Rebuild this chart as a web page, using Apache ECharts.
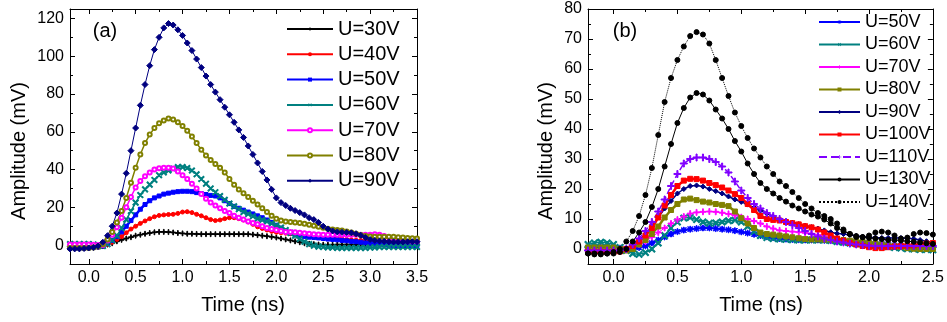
<!DOCTYPE html>
<html><head><meta charset="utf-8">
<script src="https://cdn.jsdelivr.net/npm/echarts@6/dist/echarts.min.js"></script>
<style>html,body{margin:0;padding:0;background:#fff}#c{width:947px;height:322px}</style>
</head><body><div id="c"></div>
<script>
// ---------- Panel (a) data ----------
const timeA = [-0.2,-0.15,-0.1,-0.05,0,0.05,0.1,0.15,0.2,0.25,
0.3,0.35,0.4,0.45,0.5,0.55,0.6,0.65,0.7,0.75,
0.8,0.85,0.9,0.95,1,1.05,1.1,1.15,1.2,1.25,
1.3,1.35,1.4,1.45,1.5,1.55,1.6,1.65,1.7,1.75,
1.8,1.85,1.9,1.95,2,2.05,2.1,2.15,2.2,2.25,
2.3,2.35,2.4,2.45,2.5,2.55,2.6,2.65,2.7,2.75,
2.8,2.85,2.9,2.95,3,3.05,3.1,3.15,3.2,3.25,
3.3,3.35,3.4,3.45,3.5];
const a30 = [-1.5,-1.5,-1.5,-1.5,-1.5,-1.3,-1,-0.5,0.3,1,
2,2.8,3.5,4.2,5,5.5,6,6.4,6.8,7,
7,6.9,6.7,6.4,6.2,6,6,5.9,5.8,5.8,
5.8,5.8,5.8,5.8,5.8,5.8,5.8,5.8,5.8,5.6,
5.3,5,4.7,4.4,4,3.5,3,2.5,2,1.5,
1,0.7,0.5,0.3,0.2,0.2,0.2,0.3,0.3,0.3,
0.3,0.4,0.4,0.4,0.4,0.4,0.5,0.5,0.5,0.5,
0.5,0.5,0.5,0.5,0.5];
const a40 = [-1.5,-1.5,-1.5,-1.5,-1.5,-1.3,-1,-0.5,0.5,1.5,
3,4.5,6.5,8.5,10,11.5,12.8,14,15,15.7,
16,16.2,16.3,16.8,17.5,17.7,17.2,16.3,15.5,14.5,
13.5,13,13.3,14,14.5,14.5,14,13.3,12.3,11,
9.7,8.8,8,7.3,6.8,6.5,6.3,6,5.8,5.5,
5.3,5,4.8,4.5,4.3,4,3.8,3.5,3.3,3,
2.8,2.6,2.5,2.4,2.3,2.2,2.1,2,2,1.9,
1.8,1.8,1.7,1.6,1.5];
const a50 = [-1.5,-1.5,-1.5,-1.5,-1.5,-1.3,-1,-0.5,1,2.5,
4.5,7,10,13,16,19,21.5,23.5,25,26,
27,27.5,28,28.3,28.5,28.5,28.3,27.8,27.3,26.8,
26.3,26,25,23.5,22,20.5,19.5,18.5,17.5,16.5,
15.5,14.5,13.3,12,10.5,9,7.5,6.5,5.5,5,
4.5,4.2,4,3.8,3.5,3.2,3,2.8,2.5,2.3,
2,1.8,1.5,1.2,1,0.8,0.5,0.3,0,-0.2,
-0.3,-0.3,-0.3,-0.3,-0.3];
const a60 = [0.5,0.5,0.5,0.5,0.5,0.3,0,-0.5,0.5,2.5,
5,9,13.5,18,22.5,26.5,29.5,32,34.5,37,
38.5,39.5,40.5,41.3,41.3,40.8,39.5,37.5,35,32.5,
30,28,26,24,22,20.5,19,17.5,16.5,15.3,
14,13.3,12.5,11.5,10.5,9.3,8,6.5,5,3.3,
1.8,0.5,-0.3,-0.8,-1,-1.2,-1.3,-1.5,-1.5,-1.5,
-1.5,-1.5,-1.5,-1.5,-1.3,-1.2,-1,-1,-1,-1,
-1,-1,-1,-1,-1];
const a70 = [0.3,0.3,0.3,0.3,0.3,0.2,0,0,2.5,5.5,
9.5,14.5,20,25.5,30.5,34,36.5,38.5,40,40.7,
41,41,40.5,39,37,35,32.5,30,27,24.5,
22.5,21,19.5,18,17,15.5,14.5,13.5,12.5,11.7,
11,10,9,8.5,8,7.5,7,7,6.8,6.5,
6.3,6,5.8,5.6,5.5,5.5,5.5,5.5,5.5,5.5,
5.5,5.5,5.5,5.5,5.5,5.7,5.5,4.8,4,3.3,
2.8,2.5,2.3,2.1,2];
const a80 = [-1.5,-1.5,-1.5,-1.5,-1.5,-1.3,-0.8,0.5,3,7,
12,18,25,33,41,48,54,58.5,62,64.5,
66,67,66.5,65,63,60.5,57.5,54,50.5,47.5,
45,43,41,38.5,35,32,29.5,27.5,25.5,23.5,
21.5,19.5,17.5,15.5,14,13,12.5,12.3,12,11.7,
11.3,10.8,10.3,9.7,9.2,8.7,8.3,8,7.7,7.2,
6.7,6,5.3,4.8,4.5,4.4,4.4,4.4,4.4,4.4,
4.2,4,3.8,3.6,3.5];
const a90 = [-2,-2,-2,-1.8,-1.5,-1.2,-0.5,1.5,5,10,
17,27,38,50,62,74,85,95,103.5,110,
115,117.3,116.5,114,111,107,103,98.5,94,89.5,
85,81,77,73,69,65,61,57,52.5,48,
43.5,39,34.5,29.5,25,22.5,21,19.5,18.3,17.2,
16,14.5,13.5,12,10,8.5,7.5,7,6.8,6.7,
6.5,6,5.2,4,3,2.5,2.2,2,1.8,1.7,
1.7,1.7,1.8,1.8,1.8];

// ---------- Panel (b) data ----------
const timeB = [-0.2,-0.15,-0.1,-0.05,0,0.05,0.1,0.15,0.2,0.25,
0.3,0.35,0.4,0.45,0.5,0.55,0.6,0.65,0.7,0.75,
0.8,0.85,0.9,0.95,1,1.05,1.1,1.15,1.2,1.25,
1.3,1.35,1.4,1.45,1.5,1.55,1.6,1.65,1.7,1.75,
1.8,1.85,1.9,1.95,2,2.05,2.1,2.15,2.2,2.25,
2.3,2.35,2.4,2.45,2.5];
const b50 = [0.5,0.5,0.5,0.5,0.5,0.3,0,0,0.5,1,
2,3,4,5,5.8,6.3,6.6,6.8,7,7,
6.8,6.6,6.4,6.1,5.7,5.3,4.9,4.5,4.1,3.8,
3.5,3.3,3.2,3.1,3,3,3,2.9,2.8,2.6,
2.5,2.3,2.2,2.1,2,1.8,1.6,1.4,1.2,1,
0.8,0.7,0.6,0.5,0.5];
const b60 = [1.5,2,2.3,2,1.5,0.5,-0.5,-1.5,-1.8,-1.2,
0,2,4.5,7,9,10.3,10.5,9.8,9,8.6,
8.7,9,9.4,9.6,9,7.5,5.8,4.5,3.8,3.5,
3.3,3.2,3.1,3,3,3,3,3,2.8,2.5,
2.2,2,1.8,1.6,1.4,1.2,1,0.8,0.5,0.3,
0.1,0,-0.2,-0.2,-0.3];
const b70 = [0,0,0,0,0,0,0,0.5,1.5,2.5,
4,5.5,7,8.5,9.8,10.8,11.8,12.2,12.4,12.5,
12.4,12.1,11.7,11.2,10.6,10,9.3,8.5,7.5,6.8,
6.2,6,5.8,5.6,5.4,5.1,4.7,4.2,3.6,3,
2.5,2,1.7,1.5,1.3,1.2,1.1,1,1,1,
1,1,1,1,1];
const b80 = [0.5,0.5,0.5,0.5,0.5,0,-0.5,0,1.5,3,
5,7.5,10.5,13,15,16.5,16.8,16.3,15.8,15.5,
15,14.7,14.3,12.5,10.3,8.5,7,5.5,5,4.8,
4.5,4.2,3.9,3.6,3.3,3.2,3.2,3.1,3.1,3,
3,2.8,2.6,2.3,2,1.8,1.5,1.2,1,0.7,
0.3,0.1,0,0,0];
const b90 = [-1.2,-1.2,-1.2,-1.2,-1.2,-1,-0.3,1,3,5,
7.5,10.5,13.5,16,18.5,20,21,21.2,20.8,20,
19.3,18.5,17.5,16.5,15.7,14.8,13.8,12.8,11.8,10.8,
9.8,9.3,8.8,8.3,7.8,7.3,6.8,6.2,5.6,5.2,
5,4.7,4.4,4.1,3.9,3.8,3.7,3.7,3.7,3.7,
3.6,3.4,3,2.6,2.2];
const b100 = [-1,-1,-1,-1,-1,-0.8,0,1,2.5,4.5,
7,10.5,14.5,18,21,22.8,23.4,23.3,22.8,22,
21.3,20.5,19.5,18.3,17,15,13,11,10,9.7,
9.5,9,8.6,8.2,7.6,7.2,6.5,5.5,4.5,3.5,
2.8,2,1.5,1,0.6,0.3,0.3,0.6,0.8,1,
1.1,1.2,1.5,1.8,2];
const b110 = [-0.5,-0.5,-0.5,-0.5,-0.5,-0.5,0,1.5,3.5,6,
9,12.5,16.5,21,25,28.5,30,30.5,30.5,30,
29,27.5,25.5,22.5,19.5,17,15,13.5,12,11,
10,9,8,7,6,5,4.2,3.5,3,2.5,
2.2,1.8,1.5,1.3,1.1,1,1,1,1,1,
1,1,1,1,1];
const b130 = [-1.5,-1.5,-1.5,-1.5,-1.5,-1,0,2.5,5.5,9,
14,20,27.5,35,42,47,50.5,52,51.5,49.5,
46.5,43.5,40,36,32.5,28.5,25,22,20,18.5,
17,15.8,14.5,13.5,12.5,11.5,10.8,9.8,8.5,7,
6,5,4.3,3.9,3.7,3.5,3.3,3,3,2.8,
2.6,2.4,2.2,1.9,1.7];
const b140 = [-1.5,-1.8,-1.8,-1.5,-1,0,2.5,6,11,18,
27,38,49,57,63,67.5,71,72.3,71.5,68.5,
63,57,51,45.5,41,37,33.5,30.5,27.5,25,
22.5,21,19,17,15,13.5,12,11,10,8.5,
6.5,5,4,4,4.5,5.5,5.8,5.5,4.5,3.5,
3.8,5,5.5,5.3,4.8];

// ---------- Names and ticks ----------
const namesA = ['U=30V','U=40V','U=50V','U=60V','U=70V','U=80V','U=90V'];
const namesB = ['U=50V','U=60V','U=70V','U=80V','U=90V','U=100V','U=110V','U=130V','U=140V'];
const xTicksA = [0,0.5,1,1.5,2,2.5,3,3.5];
const xMinorA = [0.25,0.75,1.25,1.75,2.25,2.75,3.25];
const yTicksA = [0,20,40,60,80,100,120];
const yMinorA = [-10,10,30,50,70,90,110];
const xTicksB = [0,0.5,1,1.5,2,2.5];
const xMinorB = [0.25,0.75,1.25,1.75,2.25];
const yTicksB = [0,10,20,30,40,50,60,70,80];
const yMinorB = [5,15,25,35,45,55,65,75];

const valsA = [a30,a40,a50,a60,a70,a80,a90];
const valsB = [b50,b60,b70,b80,b90,b100,b110,b130,b140];

// ---------- Styles ----------
const PLUS = 'path://M3.4,0h1.2v8h-1.2zM0,3.4h8v1.2h-8z';
const STAR = 'path://M3.5,0h1v8h-1zM0,3.5h8v1h-8zM1.2,0.5L7.5,6.8L6.8,7.5L0.5,1.2zM6.8,0.5L7.5,1.2L1.2,7.5L0.5,6.8z';
const styleA = [
  {color:'#000000', symbol:PLUS, size:5, rot:0, w:1},
  {color:'#FF0000', symbol:'circle', size:4, rot:0, w:2},
  {color:'#0000FF', symbol:'rect', size:4, rot:0, w:2.5},
  {color:'#008080', symbol:PLUS, size:7, rot:45, w:1.5},
  {color:'#FF00FF', symbol:'emptyCircle', size:4, rot:0, w:1.5},
  {color:'#808000', symbol:'emptyCircle', size:4, rot:0, w:1.5},
  {color:'#000080', symbol:'diamond', size:6, rot:0, w:1}
];
const styleB = [
  {color:'#0000FF', symbol:STAR, size:6, rot:0, type:'solid', w:2},
  {color:'#008080', symbol:PLUS, size:8, rot:45, type:'solid', w:1.5},
  {color:'#FF00FF', symbol:PLUS, size:6, rot:0, type:'solid', w:1},
  {color:'#808000', symbol:'rect', size:5, rot:0, type:'solid', w:2.5},
  {color:'#000080', symbol:'diamond', size:5, rot:0, type:'solid', w:1.5},
  {color:'#FF0000', symbol:'rect', size:5, rot:0, type:'solid', w:2.5},
  {color:'#8000FF', symbol:PLUS, size:7, rot:0, type:'dashed', w:1.5},
  {color:'#000000', symbol:'circle', size:5, rot:0, type:'solid', w:1},
  {color:'#000000', symbol:'circle', size:5, rot:0, type:'dotted', w:1}
];

const FONT = '"Liberation Sans", Arial, sans-serif';

function axisSet(gi, dim, min, max, majors, minors, fmt) {
  const isX = dim === 'x';
  const posMain = isX ? 'bottom' : 'left';
  const posOpp = isX ? 'top' : 'right';
  const base = {type:'value', gridIndex:gi, min:min, max:max, splitLine:{show:false}, scale:false};
  const mk = (pos, ticks, len, labels, line) => Object.assign({}, base, {
    position: pos,
    axisLine: {show: line, onZero: false, lineStyle:{color:'#000', width:1}},
    axisTick: {show:true, inside:true, length:len, customValues: ticks, lineStyle:{color:'#000', width:1}},
    axisLabel: labels ? {show:true, customValues: ticks, formatter: fmt, fontSize:16, color:'#000', margin:6, fontFamily: FONT}
                      : {show:false}
  });
  return [
    mk(posMain, majors, 5, true, true),
    mk(posMain, minors, 3, false, false),
    mk(posOpp, majors, 5, false, true),
    mk(posOpp, minors, 3, false, false)
  ];
}

const xAxes = [].concat(
  axisSet(0, 'x', -0.2, 3.5, xTicksA, xMinorA, v => Number(v).toFixed(1)),
  axisSet(1, 'x', -0.2, 2.5, xTicksB, xMinorB, v => Number(v).toFixed(1))
);
const yAxes = [].concat(
  axisSet(0, 'y', -10, 125, yTicksA, yMinorA, v => String(v)),
  axisSet(1, 'y', -5, 80, yTicksB, yMinorB, v => String(v))
);

const series = [];
namesA.forEach((n, i) => {
  const s = styleA[i];
  series.push({
    name: '(a) ' + n, type:'line', xAxisIndex:0, yAxisIndex:0,
    data: timeA.map((t, k) => [t, valsA[i][k]]),
    symbol: s.symbol, symbolSize: s.size, symbolRotate: s.rot, showSymbol:true, showAllSymbol:true,
    lineStyle:{color:s.color, width:s.w}, itemStyle:{color:s.color, borderColor:s.color},
    emphasis:{disabled:true}, animation:false
  });
});
namesB.forEach((n, i) => {
  const s = styleB[i];
  series.push({
    name: '(b) ' + n, type:'line', xAxisIndex:4, yAxisIndex:4,
    data: timeB.map((t, k) => [t, valsB[i][k]]),
    symbol: s.symbol, symbolSize: s.size, symbolRotate: s.rot, showSymbol:true, showAllSymbol:true,
    lineStyle:{color:s.color, width:s.w, type:s.type}, itemStyle:{color:s.color, borderColor:s.color},
    emphasis:{disabled:true}, animation:false
  });
});

const strip = name => name.replace(/^\([ab]\) /, '');

const option = {
  backgroundColor:'#fff',
  animation:false,
  textStyle:{fontFamily: FONT, color:'#000'},
  grid:[
    {left:70, right:530, top:9, bottom:58, show:false},
    {left:588, right:12, top:9, bottom:58, show:false}
  ],
  xAxis: xAxes,
  yAxis: yAxes,
  legend:[
    {data: namesA.map(n => '(a) ' + n), orient:'vertical', left:286, top:19, itemWidth:46, itemHeight:5, itemGap:5.3,
     padding:0, formatter: strip, textStyle:{fontSize:20, color:'#000', fontFamily:FONT}, selectedMode:false},
    {data: namesB.map(n => '(b) ' + n), orient:'vertical', left:818, top:13, itemWidth:41, itemHeight:5, itemGap:4.5,
     padding:0, formatter: strip, textStyle:{fontSize:18, color:'#000', fontFamily:FONT}, selectedMode:false}
  ],
  graphic:[
    {type:'text', x:19.5, y:151, rotation:Math.PI/2, style:{text:'Amplitude (mV)', font:'20px ' + FONT, fill:'#000', textAlign:'center', textVerticalAlign:'middle'}},
    {type:'text', x:546.7, y:151, rotation:Math.PI/2, style:{text:'Amplitude (mV)', font:'20px ' + FONT, fill:'#000', textAlign:'center', textVerticalAlign:'middle'}},
    {type:'text', x:243, y:305, style:{text:'Time (ns)', font:'20px ' + FONT, fill:'#000', textAlign:'center', textVerticalAlign:'middle'}},
    {type:'text', x:761, y:305, style:{text:'Time (ns)', font:'20px ' + FONT, fill:'#000', textAlign:'center', textVerticalAlign:'middle'}},
    {type:'text', x:105, y:31, style:{text:'(a)', font:'20px ' + FONT, fill:'#000', textAlign:'center', textVerticalAlign:'middle'}},
    {type:'text', x:625, y:31, style:{text:'(b)', font:'20px ' + FONT, fill:'#000', textAlign:'center', textVerticalAlign:'middle'}}
  ],
  series: series
};
const chart = echarts.init(document.getElementById('c'), null, {renderer:'canvas'});
chart.setOption(option);
</script>
</body></html>
